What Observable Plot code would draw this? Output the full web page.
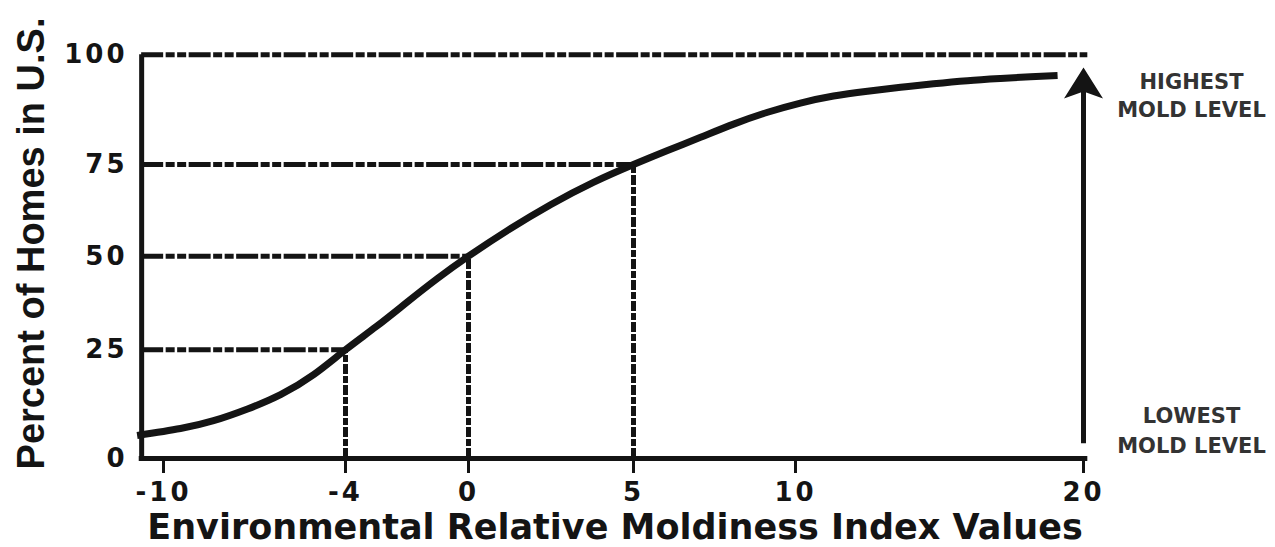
<!DOCTYPE html>
<html>
<head>
<meta charset="utf-8">
<script src="https://cdn.jsdelivr.net/npm/d3@7"></script>
<script src="https://cdn.jsdelivr.net/npm/@observablehq/plot@0.6"></script>
<style>
  html, body { margin: 0; padding: 0; background: #fff; }
  #chart svg { display: block; }
  g[aria-label="x-axis tick label"] text,
  g[aria-label="y-axis tick label"] text { letter-spacing: 3px; }
</style>
</head>
<body>
<div id="chart"></div>
<script>
// ---- data ----
const xTicks = [-10, -4, 0, 5, 10, 20];
const yTicks = [0, 25, 50, 75, 100];

// S-curve: ERMI value vs percent of homes
const curveX   = [-10.87, -9.44, -8.35, -7.23, -6.14, -5.05, -4, -3, -2, -1, 0, 1.2, 2.5, 3.8, 5, 6.05, 7.07, 8.09, 9.14, 10.17, 11.32, 12.5, 13.65, 14.79, 15.97, 17.12, 18.16, 19.1];
const curvePct = [5.3, 6.9, 8.7, 11.4, 14.7, 19.3, 25, 31.2, 37.7, 44.1, 50, 57.1, 64.1, 70.2, 75, 78.2, 81.2, 84.2, 86.9, 89.0, 90.6, 91.7, 92.6, 93.4, 94.1, 94.6, 95.0, 95.3];

// reference (drop) lines: percent level and the ERMI value where it meets the curve
const refPct = [25, 50, 75];
const refX   = [-4, 0, 5];

const xStart = -10.72;   // left edge of the plotted axis
const xEnd = 20.15;      // right edge of the plotted axis
const topPct = 100;

const arrowX = 20;
const arrowBottom = 3.4;
const arrowShaftTop = 93;
const arrowTip = 97.1;

const yTitle = "Percent of Homes in U.S.";
const xTitle = "Environmental Relative Moldiness Index Values";
const highLabel = "HIGHEST\nMOLD LEVEL";
const lowLabel = "LOWEST\nMOLD LEVEL";

// ---- build ----
const curve = curveX.map((x, i) => ({x, y: curvePct[i]}));
const refs = refX.map((x, i) => ({x, y: refPct[i]}));
const ink = "#141414";

const arrowHead = {
  draw(ctx, size) {
    const k = Math.sqrt(size / Math.PI) / 15;
    ctx.moveTo(0, 0);
    ctx.lineTo(19.5 * k, 31 * k);
    ctx.lineTo(0, 24 * k);
    ctx.lineTo(-19.5 * k, 31 * k);
    ctx.closePath();
  }
};

const chart = Plot.plot({
  width: 1275,
  height: 547,
  marginLeft: 142,
  marginRight: 188,
  marginTop: 54,
  marginBottom: 89,
  style: {fontFamily: "'DejaVu Sans', 'Liberation Sans', sans-serif", fontWeight: "bold", background: "#fff", color: ink},
  x: {type: "linear", domain: xTicks, range: [163, 345, 468, 633, 795, 1083], label: null},
  y: {type: "linear", domain: yTicks, range: [458, 349.3, 255.7, 164, 54.3], label: null},
  marks: [
    // horizontal dash-dot lines
    Plot.ruleY(refs, {y: "y", x1: xStart, x2: "x", stroke: ink, strokeWidth: 5, strokeDasharray: "22,2.5,9,2.5,9,2.5"}),
    Plot.ruleY([topPct], {x1: xStart, x2: xEnd, stroke: ink, strokeWidth: 5, strokeDasharray: "22,2.5,9,2.5,9,2.5"}),
    // vertical dash lines
    Plot.ruleX(refs, {x: "x", y1: 0, y2: "y", stroke: ink, strokeWidth: 5, strokeDasharray: "10,2,7,2"}),
    // axes lines
    Plot.ruleX([xStart], {y1: 0, y2: topPct, stroke: ink, strokeWidth: 5}),
    Plot.ruleY([0], {x1: xStart - 0.08, x2: xEnd, stroke: ink, strokeWidth: 5}),
    Plot.axisX(xTicks, {tickSize: 15, tickPadding: 9, strokeWidth: 3, stroke: ink, fontSize: 26, fontWeight: "bold", fill: ink, label: null, tickFormat: d => String(d)}),
    Plot.axisY(yTicks, {tickSize: 0, tickPadding: 15, fontSize: 26, fontWeight: "bold", fill: ink, label: null, tickFormat: d => String(d)}),
    // the curve
    Plot.line(curve, {x: "x", y: "y", curve: "natural", stroke: ink, strokeWidth: 7, strokeLinecap: "butt"}),
    // arrow
    Plot.ruleX([arrowX], {y1: arrowBottom, y2: arrowShaftTop, stroke: ink, strokeWidth: 5}),
    Plot.dot([{x: arrowX, y: arrowTip}], {x: "x", y: "y", symbol: arrowHead, r: 15, fill: ink, stroke: "none"}),
    // titles
    Plot.text([xTitle], {frameAnchor: "bottom", dy: 80, lineAnchor: "bottom", fontSize: 35, fontWeight: "bold", fill: ink}),
    Plot.text([yTitle], {frameAnchor: "left", textAnchor: "middle", rotate: -90, dx: -99, dy: -13, lineAnchor: "bottom", fontSize: 38, fontWeight: "bold", fill: ink, fontFamily: "'Liberation Sans', Arial, sans-serif"}),
    Plot.text([highLabel], {frameAnchor: "top-right", dx: 104, dy: 14, lineAnchor: "top", textAnchor: "middle", fontSize: 21, lineHeight: 1.36, fontWeight: "bold", fill: "#333"}),
    Plot.text([lowLabel], {frameAnchor: "bottom-right", dx: 104, dy: -6, lineAnchor: "bottom", textAnchor: "middle", fontSize: 21, lineHeight: 1.42, fontWeight: "bold", fill: "#333"})
  ]
});
document.getElementById("chart").appendChild(chart);
</script>
</body>
</html>
